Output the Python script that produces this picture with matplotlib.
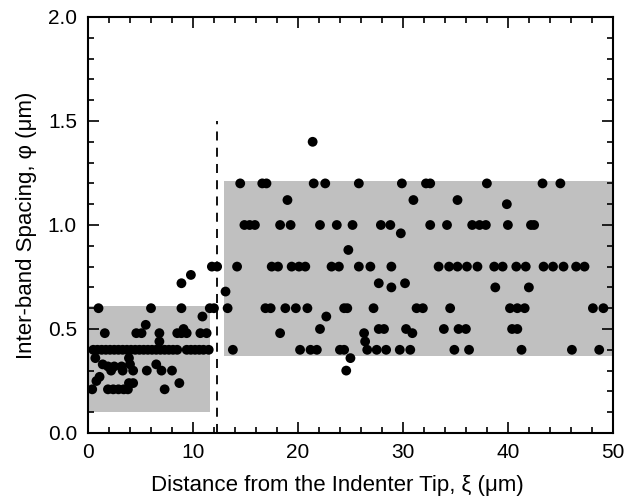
import numpy as np
import matplotlib
matplotlib.use("Agg")
import matplotlib.pyplot as plt
from matplotlib.ticker import MultipleLocator

plt.rcParams['font.family'] = ['Liberation Sans', 'DejaVu Sans']

# measured inter-band spacing vs. distance from the indenter tip
xi = [
    # near-tip zone
    1.0, 6.0, 8.9, 11.6, 12.0,
    10.9, 5.5, 9.1,
    1.6, 4.6, 5.1, 6.8, 8.5, 8.9, 9.4, 10.7, 11.3,
    6.8, 8.9, 9.8, 11.8, 12.3,
    0.5, 0.9, 1.3, 1.7, 2.1, 2.5, 2.9, 3.3, 3.7, 4.1, 4.5, 4.9, 5.3, 5.7,
    6.1, 6.5, 6.9, 7.3, 7.7, 8.1, 8.5, 9.4, 9.8, 10.2, 10.6, 11.0, 11.5,
    0.7, 3.9, 1.4, 4.0, 6.5, 1.9, 2.5, 3.2,
    2.2, 3.3, 4.3, 5.6, 7.0, 8.0, 1.1, 0.8, 3.9, 4.3, 8.7,
    0.4, 1.9, 2.4, 2.9, 3.4, 3.8, 7.3,
    # far zone
    21.4,
    14.5, 16.6, 17.0, 21.5, 22.6, 25.8, 29.9, 32.2, 32.6, 38.0, 43.3, 45.0,
    19.0, 31.0, 35.2, 39.9,
    14.9, 15.4, 15.9, 18.3, 19.3, 22.1, 23.7, 25.2, 27.9, 28.8, 32.6, 34.2,
    36.6, 37.3, 37.9, 40.0, 42.2, 42.5,
    29.8, 24.8,
    14.2, 17.5, 18.1, 19.4, 20.1, 20.7, 23.2, 23.9, 25.8, 26.9, 28.9, 33.4,
    34.4, 35.2, 36.1, 37.1, 38.7, 39.5, 40.8, 41.7, 43.4, 44.3, 45.3, 46.5, 47.3,
    27.7, 30.2, 28.9, 38.8, 42.0, 13.1,
    13.3, 16.9, 17.4, 18.8, 19.8, 20.9, 24.4, 24.7, 27.2, 31.3, 31.9, 34.5,
    40.2, 40.9, 41.6, 48.1, 49.1,
    22.7,
    22.1, 27.7, 28.2, 30.3, 33.9, 35.3, 36.0, 40.4, 40.9,
    18.3, 26.3, 30.9, 26.4,
    13.8, 20.2, 21.2, 21.8, 24.0, 24.4, 26.6, 27.5, 28.4, 29.7, 30.7, 34.9,
    36.3, 41.3, 46.1, 48.7,
    25.0, 24.6,
]
phi = [
    0.6, 0.6, 0.6, 0.6, 0.6,
    0.56, 0.52, 0.5,
    0.48, 0.48, 0.48, 0.48, 0.48, 0.48, 0.48, 0.48, 0.48,
    0.44, 0.72, 0.76, 0.8, 0.8,
    0.4, 0.4, 0.4, 0.4, 0.4, 0.4, 0.4, 0.4, 0.4, 0.4, 0.4, 0.4, 0.4, 0.4,
    0.4, 0.4, 0.4, 0.4, 0.4, 0.4, 0.4, 0.4, 0.4, 0.4, 0.4, 0.4, 0.4,
    0.36, 0.36, 0.33, 0.33, 0.33, 0.32, 0.32, 0.32,
    0.3, 0.3, 0.3, 0.3, 0.3, 0.3, 0.27, 0.25, 0.24, 0.24, 0.24,
    0.21, 0.21, 0.21, 0.21, 0.21, 0.21, 0.21,
    1.4,
    1.2, 1.2, 1.2, 1.2, 1.2, 1.2, 1.2, 1.2, 1.2, 1.2, 1.2, 1.2,
    1.12, 1.12, 1.12, 1.1,
    1.0, 1.0, 1.0, 1.0, 1.0, 1.0, 1.0, 1.0, 1.0, 1.0, 1.0, 1.0,
    1.0, 1.0, 1.0, 1.0, 1.0, 1.0,
    0.96, 0.88,
    0.8, 0.8, 0.8, 0.8, 0.8, 0.8, 0.8, 0.8, 0.8, 0.8, 0.8, 0.8,
    0.8, 0.8, 0.8, 0.8, 0.8, 0.8, 0.8, 0.8, 0.8, 0.8, 0.8, 0.8, 0.8,
    0.72, 0.72, 0.7, 0.7, 0.7, 0.68,
    0.6, 0.6, 0.6, 0.6, 0.6, 0.6, 0.6, 0.6, 0.6, 0.6, 0.6, 0.6,
    0.6, 0.6, 0.6, 0.6, 0.6,
    0.56,
    0.5, 0.5, 0.5, 0.5, 0.5, 0.5, 0.5, 0.5, 0.5,
    0.48, 0.48, 0.48, 0.44,
    0.4, 0.4, 0.4, 0.4, 0.4, 0.4, 0.4, 0.4, 0.4, 0.4, 0.4, 0.4,
    0.4, 0.4, 0.4, 0.4,
    0.36, 0.3,
]

# shaded scatter bands: (x0, x1, y0, y1)
band_near = (0.0, 11.6, 0.1, 0.61)
band_far = (13.0, 50.0, 0.37, 1.21)
boundary_x = 12.3
boundary_top = 1.5

fig = plt.figure(figsize=(6.26, 5.0), dpi=100)
ax = fig.add_axes([0.1406, 0.134, 0.8384, 0.832])

for x0, x1, y0, y1 in (band_near, band_far):
    ax.fill_between([x0, x1], y0, y1, color='#c0c0c0', lw=0, zorder=1)

ax.plot([boundary_x, boundary_x], [0, boundary_top], color='black',
        ls=(0, (5, 4)), lw=1.3, zorder=2)

ax.scatter(xi, phi, s=50, color='black', edgecolors='none', zorder=3)

ax.set_xlim(0, 50)
ax.set_ylim(0, 2.0)
ax.xaxis.set_major_locator(MultipleLocator(10))
ax.xaxis.set_minor_locator(MultipleLocator(2))
ax.yaxis.set_major_locator(MultipleLocator(0.5))
ax.yaxis.set_minor_locator(MultipleLocator(0.1))
ax.yaxis.set_major_formatter(plt.FormatStrFormatter('%.1f'))
ax.tick_params(which='both', direction='in', top=True, right=True,
               labelsize=15, width=1.2)
ax.tick_params(which='major', length=8)
ax.tick_params(which='minor', length=4)
ax.tick_params(axis='x', pad=7)
ax.tick_params(axis='y', pad=8)
for sp in ax.spines.values():
    sp.set_linewidth(1.5)

ax.set_xlabel('Distance from the Indenter Tip, ξ (μm)', fontsize=16)
ax.xaxis.set_label_coords(0.475, -0.1)
ax.xaxis.label.set_va('top')
ax.set_ylabel('Inter-band Spacing, φ (μm)', fontsize=16, labelpad=8)

fig.savefig('out.png', dpi=100)
